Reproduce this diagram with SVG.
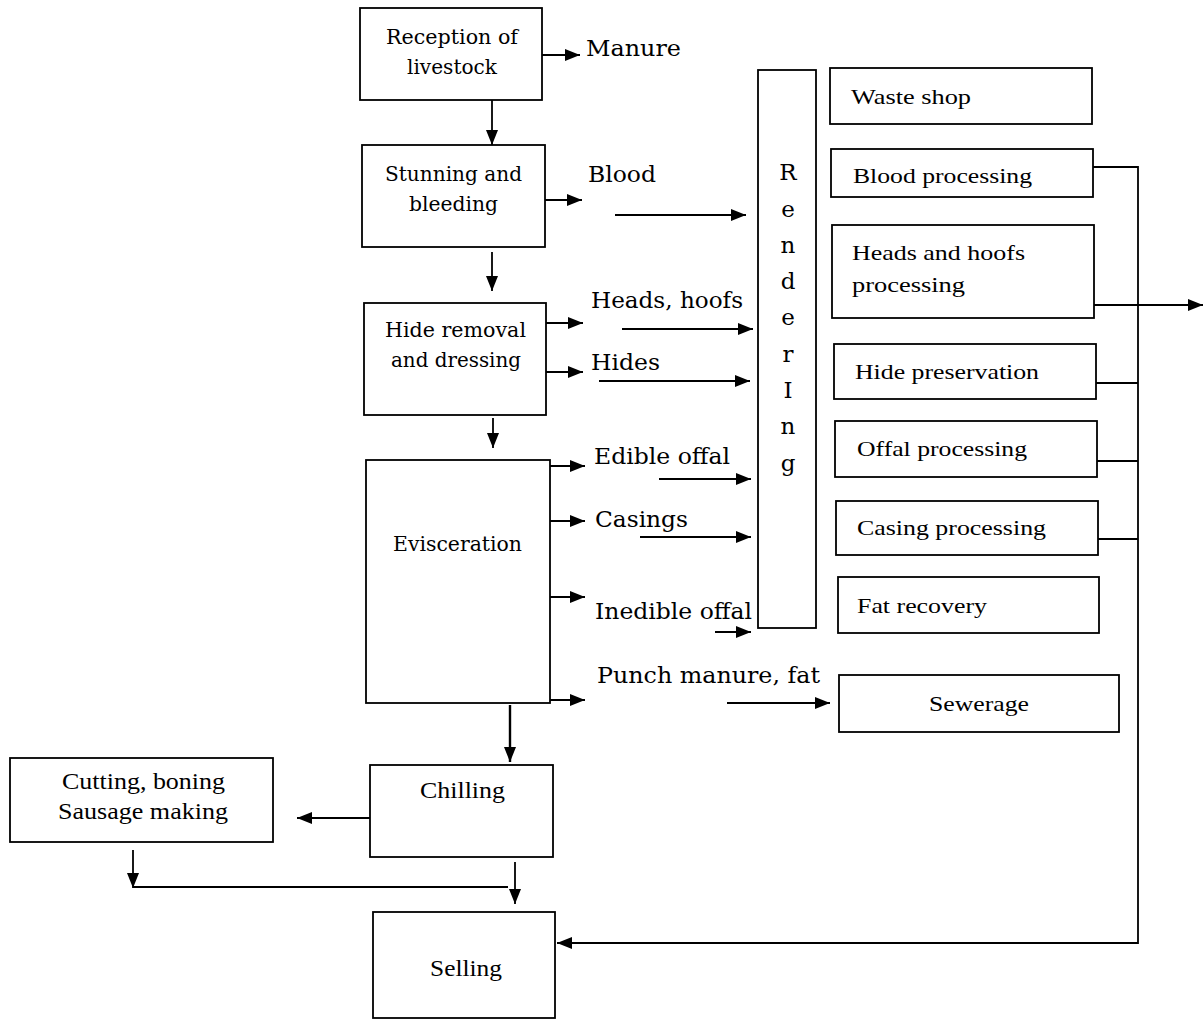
<svg xmlns="http://www.w3.org/2000/svg" width="1204" height="1020" viewBox="0 0 1204 1020">
<style>
.box{fill:#fff;stroke:#000;stroke-width:1.8}
.c{fill:none;stroke:#000;stroke-width:1.8}
.a{marker-end:url(#ah)}
.bt{font-family:"DejaVu Serif","Liberation Serif",serif;font-size:20px;fill:#000}
.lb{font-family:"DejaVu Serif","Liberation Serif",serif;font-size:22px;fill:#000}
.rl{font-family:"DejaVu Serif","Liberation Serif",serif;font-size:23px;fill:#000}
.rt{font-family:"Liberation Serif",serif;font-size:22px;fill:#000}
.tt{font-family:"Liberation Serif",serif;font-size:23px;fill:#000}
text{dominant-baseline:central}
</style>
<defs>
<marker id="ah" markerUnits="userSpaceOnUse" markerWidth="15" markerHeight="12" refX="15" refY="6" orient="auto">
<path d="M0,0 L15,6 L0,12 z" fill="#000"/>
</marker>
</defs>
<rect width="1204" height="1020" fill="#fff"/>

<g id="reception">
<rect class="box" x="360" y="8" width="182" height="92"/>
<text class="bt" x="386" y="37" textLength="132" lengthAdjust="spacingAndGlyphs">Reception of</text>
<text class="bt" x="407" y="67" textLength="90" lengthAdjust="spacingAndGlyphs">livestock</text>
</g>
<g id="stunning">
<rect class="box" x="362" y="145" width="183" height="102"/>
<text class="bt" x="385" y="174" textLength="137" lengthAdjust="spacingAndGlyphs">Stunning and</text>
<text class="bt" x="409" y="204" textLength="89" lengthAdjust="spacingAndGlyphs">bleeding</text>
</g>
<g id="hide-removal">
<rect class="box" x="364" y="303" width="182" height="112"/>
<text class="bt" x="385" y="330" textLength="141" lengthAdjust="spacingAndGlyphs">Hide removal</text>
<text class="bt" x="391" y="360" textLength="130" lengthAdjust="spacingAndGlyphs">and dressing</text>
</g>
<g id="evisceration">
<rect class="box" x="366" y="460" width="184" height="243"/>
<text class="bt" x="393" y="544" textLength="129" lengthAdjust="spacingAndGlyphs">Evisceration</text>
</g>
<g id="chilling">
<rect class="box" x="370" y="765" width="183" height="92"/>
<text class="tt" x="420" y="790" textLength="85" lengthAdjust="spacingAndGlyphs">Chilling</text>
</g>
<g id="cutting">
<rect class="box" x="10" y="758" width="263" height="84"/>
<text class="tt" x="62" y="781" textLength="163" lengthAdjust="spacingAndGlyphs">Cutting, boning</text>
<text class="tt" x="58" y="811" textLength="170" lengthAdjust="spacingAndGlyphs">Sausage making</text>
</g>
<g id="selling">
<rect class="box" x="373" y="912" width="182" height="106"/>
<text class="tt" x="430" y="968" textLength="72" lengthAdjust="spacingAndGlyphs">Selling</text>
</g>
<g id="rendering">
<rect class="box" x="758" y="70" width="58" height="558"/>
<g class="rl" text-anchor="middle">
<text x="788" y="172">R</text>
<text x="788" y="209">e</text>
<text x="788" y="245">n</text>
<text x="788" y="281">d</text>
<text x="788" y="317">e</text>
<text x="788" y="354">r</text>
<text x="788" y="390">I</text>
<text x="788" y="426">n</text>
<text x="788" y="463">g</text>
</g>
</g>
<g id="waste-shop">
<rect class="box" x="830" y="68" width="262" height="56"/>
<text class="rt" x="851" y="96" textLength="120" lengthAdjust="spacingAndGlyphs">Waste shop</text>
</g>
<g id="blood-processing">
<rect class="box" x="831" y="149" width="262" height="48"/>
<text class="rt" x="853" y="175" textLength="179" lengthAdjust="spacingAndGlyphs">Blood processing</text>
</g>
<g id="heads-hoofs-processing">
<rect class="box" x="832" y="225" width="262" height="93"/>
<text class="rt" x="852" y="252" textLength="173" lengthAdjust="spacingAndGlyphs">Heads and hoofs</text>
<text class="rt" x="852" y="284" textLength="113" lengthAdjust="spacingAndGlyphs">processing</text>
</g>
<g id="hide-preservation">
<rect class="box" x="834" y="344" width="262" height="55"/>
<text class="rt" x="855" y="371" textLength="184" lengthAdjust="spacingAndGlyphs">Hide preservation</text>
</g>
<g id="offal-processing">
<rect class="box" x="835" y="421" width="262" height="56"/>
<text class="rt" x="857" y="448" textLength="170" lengthAdjust="spacingAndGlyphs">Offal processing</text>
</g>
<g id="casing-processing">
<rect class="box" x="836" y="501" width="262" height="54"/>
<text class="rt" x="857" y="527" textLength="189" lengthAdjust="spacingAndGlyphs">Casing processing</text>
</g>
<g id="fat-recovery">
<rect class="box" x="838" y="577" width="261" height="56"/>
<text class="rt" x="857" y="605" textLength="130" lengthAdjust="spacingAndGlyphs">Fat recovery</text>
</g>
<g id="sewerage">
<rect class="box" x="839" y="675" width="280" height="57"/>
<text class="rt" x="929" y="703" textLength="100" lengthAdjust="spacingAndGlyphs">Sewerage</text>
</g>

<g id="labels">
<text class="lb" x="586" y="48" textLength="95" lengthAdjust="spacingAndGlyphs">Manure</text>
<text class="lb" x="588" y="174" textLength="68" lengthAdjust="spacingAndGlyphs">Blood</text>
<text class="lb" x="591" y="300" textLength="152" lengthAdjust="spacingAndGlyphs">Heads, hoofs</text>
<text class="lb" x="591" y="362" textLength="69" lengthAdjust="spacingAndGlyphs">Hides</text>
<text class="lb" x="594" y="456" textLength="136" lengthAdjust="spacingAndGlyphs">Edible offal</text>
<text class="lb" x="595" y="519" textLength="93" lengthAdjust="spacingAndGlyphs">Casings</text>
<text class="lb" x="595" y="611" textLength="157" lengthAdjust="spacingAndGlyphs">Inedible offal</text>
<text class="lb" x="597" y="675" textLength="223" lengthAdjust="spacingAndGlyphs">Punch manure, fat</text>
</g>

<g id="connectors">
<path class="c a" d="M492,100 V145"/>
<path class="c a" d="M542,55 H580"/>
<path class="c a" d="M545,200 H582"/>
<path class="c a" d="M615,215 H746"/>
<path class="c a" d="M492,252 V291"/>
<path class="c a" d="M546,323 H583"/>
<path class="c a" d="M546,372 H583"/>
<path class="c a" d="M622,329 H753"/>
<path class="c a" d="M599,381 H750"/>
<path class="c a" d="M493,418 V448"/>
<path class="c a" d="M550,466 H585"/>
<path class="c a" d="M550,521 H585"/>
<path class="c a" d="M550,597 H585"/>
<path class="c a" d="M550,700 H585"/>
<path class="c a" d="M659,479 H751"/>
<path class="c a" d="M640,537 H751"/>
<path class="c a" d="M715,632 H751"/>
<path class="c a" d="M727,703 H830"/>
<path class="c a" style="stroke-width:2.4" d="M510,705 V762"/>
<path class="c a" d="M370,818 H297"/>
<path class="c a" d="M133,850 V888"/>
<path class="c" d="M133,887 H508"/>
<path class="c a" d="M515,862 V904"/>
<path class="c a" d="M1093,167 H1138 V943 H557"/>
<path class="c a" d="M1094,305 H1203"/>
<path class="c" d="M1096,383 H1138"/>
<path class="c" d="M1097,461 H1138"/>
<path class="c" d="M1098,539 H1138"/>
</g>
</svg>
